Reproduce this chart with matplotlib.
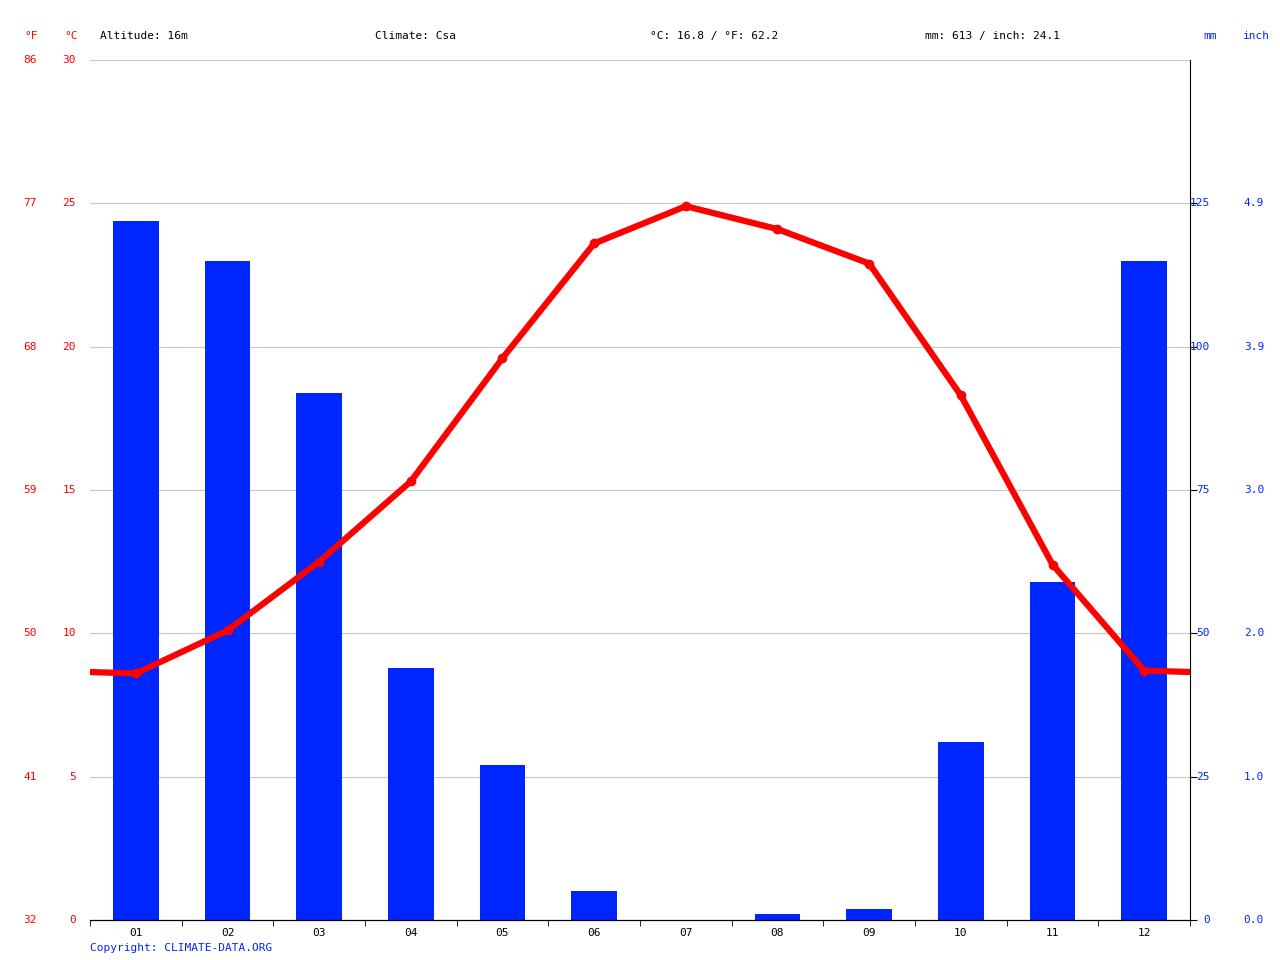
import numpy as np
import matplotlib
matplotlib.use('Agg')
import matplotlib.pyplot as plt

months = ['01', '02', '03', '04', '05', '06', '07', '08', '09', '10', '11', '12']
precip_mm = [122, 115, 92, 44, 27, 5, 0, 1, 2, 31, 59, 115]
temp_c = [8.6, 10.1, 12.5, 15.3, 19.6, 23.6, 24.9, 24.1, 22.9, 18.3, 12.4, 8.7]
temp_ticks_c = [0, 5, 10, 15, 20, 25, 30]
temp_ticks_f = [32, 41, 50, 59, 68, 77, 86]
mm_ticks = [0, 25, 50, 75, 100, 125]
inch_ticks = ['0.0', '1.0', '2.0', '3.0', '3.9', '4.9']

W, H = 1280, 960
fig = plt.figure(figsize=(12.8, 9.6), dpi=100)
x0, x1, y0, y1 = 90, 1190, 60, 920
ax = fig.add_axes([x0 / W, 1 - y1 / H, (x1 - x0) / W, (y1 - y0) / H])
ax2 = ax.twinx()
font = 'DejaVu Sans Mono'
red = '#ff0000'
blue = '#0026ff'

x = np.arange(1, 13)
ax2.bar(x, precip_mm, width=0.5, color=blue, zorder=2)
ax2.set_ylim(0, 150)
ax.set_ylim(0, 30)
ax.set_xlim(0.5, 12.5)

# line wraps between Dec and Jan at the edges
edge = (temp_c[0] + temp_c[-1]) / 2
lx = np.concatenate([[0.5], x, [12.5]])
ly = np.concatenate([[edge], temp_c, [edge]])
ax.set_zorder(ax2.get_zorder() + 1)
ax.patch.set_visible(False)
ax.plot(lx, ly, color=red, lw=4.5, solid_capstyle='butt', zorder=3)
ax.plot(x, temp_c, 'o', color=red, ms=6, zorder=4)

for t in temp_ticks_c:
    ax2.axhline(t * 5, color='#c8c8c8', lw=0.8, zorder=1)

for a in (ax, ax2):
    for s in ['top', 'left']:
        a.spines[s].set_visible(False)
ax.spines['right'].set_visible(False)
ax2.spines['right'].set_color('black')
ax2.spines['bottom'].set_color('black')

ax.set_yticks([])
ax.set_xticks(x)
ax.set_xticklabels(months, fontsize=8, family=font)
ax.set_xticks(np.arange(0.5, 13, 1), minor=True)
ax.tick_params(axis='x', which='major', length=0, pad=6)
ax.tick_params(axis='x', which='minor', length=4)
ax2.set_yticks(mm_ticks)
ax2.set_yticklabels([])
ax2.tick_params(axis='y', length=5, color='black')

def fy(v):
    return 1 - (y1 - (y1 - y0) * v) / H

for c, f in zip(temp_ticks_c, temp_ticks_f):
    fig.text(37 / W, fy(c / 30), str(f), color=red, fontsize=8, family=font, ha='right', va='center')
    fig.text(76 / W, fy(c / 30), str(c), color=red, fontsize=8, family=font, ha='right', va='center')
for m, i in zip(mm_ticks, inch_ticks):
    fig.text(1210 / W, fy(m / 150), str(m), color=blue, fontsize=8, family=font, ha='right', va='center')
    fig.text(1264 / W, fy(m / 150), i, color=blue, fontsize=8, family=font, ha='right', va='center')

ty = 1 - 36 / H
fig.text(24 / W, ty, '°F', color=red, fontsize=8, family=font, va='center')
fig.text(64 / W, ty, '°C', color=red, fontsize=8, family=font, va='center')
fig.text(1203 / W, ty, 'mm', color=blue, fontsize=8, family=font, va='center')
fig.text(1243 / W, ty, 'inch', color=blue, fontsize=8, family=font, va='center')
fig.text(100 / W, ty, 'Altitude: 16m', fontsize=8, family=font, va='center')
fig.text(375 / W, ty, 'Climate: Csa', fontsize=8, family=font, va='center')
fig.text(650 / W, ty, '°C: 16.8 / °F: 62.2', fontsize=8, family=font, va='center')
fig.text(925 / W, ty, 'mm: 613 / inch: 24.1', fontsize=8, family=font, va='center')
fig.text(90 / W, 1 - 948 / H, 'Copyright: CLIMATE-DATA.ORG', color=blue, fontsize=8, family=font, va='center')

fig.savefig('out.png', dpi=100)
